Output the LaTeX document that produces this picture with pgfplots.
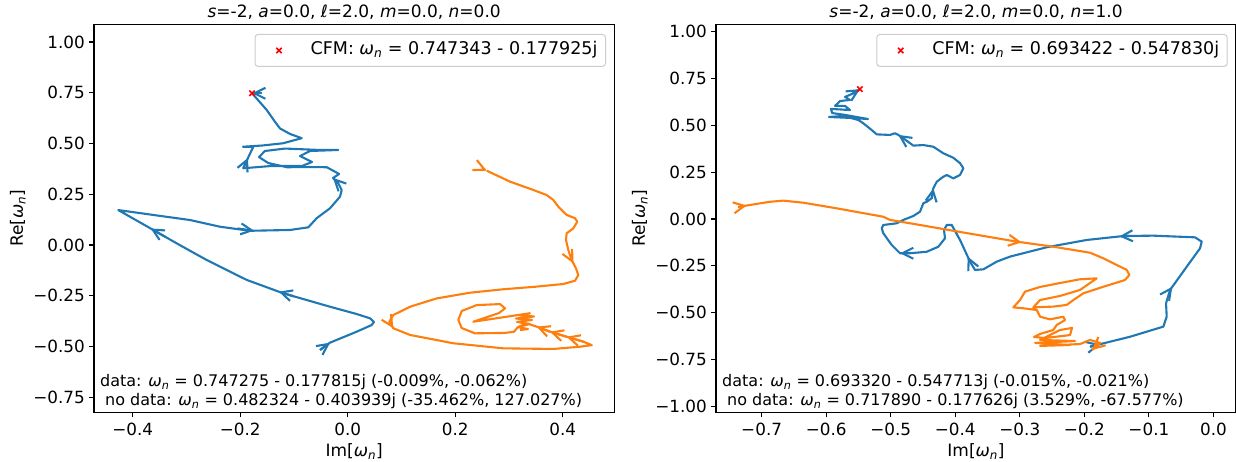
\documentclass[border=0pt]{standalone}
\usepackage{fontspec}
\setmainfont{DejaVu Sans}
\usepackage{pgfplots}
\pgfplotsset{compat=1.18}
\usetikzlibrary{arrows.meta}
\definecolor{mblue}{RGB}{31,119,180}
\definecolor{morange}{RGB}{255,127,14}
\definecolor{legframe}{RGB}{204,204,204}
\newcommand{\wn}{\textit{ω}\textsubscript{\textit{n}}}
\newcommand{\fsz}[1]{\fontsize{#1}{#1}\selectfont}
\tikzset{
  arr/.style={-{Straight Barb[length=11pt,width=11pt]}},
}
\pgfplotsset{
  panel/.style={scale only axis, width=520pt, height=388pt,
    axis line style={line width=1.1pt},
    tick style={line width=1.1pt, black},
    tick align=outside, tick pos=left, major tick length=5pt,
    xticklabel style={font=\fsz{16.8}, anchor=north, inner sep=0pt, yshift=-6pt},
    yticklabel style={font=\fsz{16.8}, anchor=east, inner sep=0pt, xshift=-4pt},
    every axis title/.style={at={(0.5,1)}, anchor=base, yshift=6.3pt,
                             inner sep=0pt, font=\fsz{17}},
    every axis x label/.style={at={(0.5,-0.1015)}, anchor=center, font=\fsz{17}},
    every axis y label/.style={at={(-0.1465,0.5)}, rotate=90, anchor=center, font=\fsz{17}},
    xlabel={Im[\wn]}, ylabel={Re[\wn]},
    legend style={at={(1,1)}, anchor=north east, xshift=-8.3pt, yshift=-9.7pt,
                  draw=legframe, line width=1pt, rounded corners=3pt,
                  fill=white, fill opacity=0.8, text opacity=1,
                  inner xsep=8pt, inner ysep=7.7pt, font=\fsz{17.5},
                  nodes={inner sep=0pt, text height=12.5pt, text depth=4pt}},
    legend image code/.code={\path[draw=none, fill=none] (0pt,-2pt) rectangle (47.6pt,2pt);
                             \draw[##1] plot coordinates {(16pt,0pt)};},
  },
  trk/.style={line width=2.1pt, line join=round, forget plot},
  cfm/.style={only marks, mark=x, red, mark size=3.8pt, line width=1.6pt},
}

\begin{document}
\begin{tikzpicture}
\useasboundingbox (0,0) rectangle (1236pt,461pt);

% left panel, n = 0
\begin{axis}[panel, at={(94pt,48.7pt)}, anchor=south west, width=520.3pt,
             xmin=-0.472, xmax=0.496, ymin=-0.824, ymax=1.087,
             xtick={-0.4,-0.2,0,0.2,0.4},
             xticklabels={−0.4,−0.2,0.0,0.2,0.4},
             ytick={-0.75,-0.5,-0.25,0,0.25,0.5,0.75,1},
             yticklabels={−0.75,−0.50,−0.25,0.00,0.25,0.50,0.75,1.00},
             title={\textit{s}=-2, \textit{a}=0.0, \textit{ℓ}=2.0, \textit{m}=0.0, \textit{n}=0.0}]
  \addplot[trk, mblue] coordinates {
    (-0.0515,-0.517) (-0.0329,-0.481) (0.0167,-0.427) (0.0447,-0.394) (0.0489,-0.379)
    (0.0415,-0.361) (0.0167,-0.340) (-0.0329,-0.304) (-0.1198,-0.238) (-0.1879,-0.172)
    (-0.2623,-0.074) (-0.3181,0.008) (-0.3617,0.074) (-0.4268,0.172) (-0.3617,0.148)
    (-0.2934,0.123) (-0.2376,0.090) (-0.1818,0.070) (-0.1073,0.074) (-0.0733,0.087)
    (-0.0577,0.132) (-0.0329,0.181) (-0.0143,0.238) (-0.0112,0.271) (-0.0175,0.304)
    (-0.0273,0.330) (-0.016,0.350) (-0.039,0.383) (-0.0701,0.384) (-0.1129,0.383)
    (-0.148,0.404) (-0.165,0.433) (-0.154,0.463) (-0.1166,0.475) (-0.0515,0.468)
    (-0.0175,0.468) (-0.0701,0.463) (-0.0887,0.438) (-0.0664,0.409) (-0.085,0.389)
    (-0.143,0.389) (-0.1942,0.378) (-0.1855,0.429) (-0.1756,0.484) (-0.1948,0.484)
    (-0.159,0.490) (-0.1204,0.501) (-0.0856,0.526) (-0.1073,0.547) (-0.126,0.574)
    (-0.1353,0.607) (-0.1507,0.665) (-0.1779,0.7473)};
  \addplot[trk, mblue, arr] coordinates {(-0.0515,-0.517) (-0.0329,-0.481)};
  \addplot[trk, mblue, arr] coordinates {(-0.100,-0.253) (-0.128,-0.230)};
  \addplot[trk, mblue, arr] coordinates {(-0.340,0.041) (-0.3665,0.081)};
  \addplot[trk, mblue, arr] coordinates {(-0.205,0.0815) (-0.1743,0.0704)};
  \addplot[trk, mblue, arr] coordinates {(-0.0175,0.304) (-0.0273,0.330)};
  \addplot[trk, mblue, arr] coordinates {(-0.1942,0.378) (-0.1855,0.429)};
  \addplot[trk, mblue, arr] coordinates {(-0.159,0.7473) (-0.1779,0.7473)};

  \addplot[trk, morange] coordinates {
    (0.2586,0.366) (0.302,0.312) (0.3453,0.271) (0.3702,0.246) (0.3825,0.222)
    (0.3918,0.189) (0.4074,0.148) (0.4229,0.132) (0.4272,0.115) (0.4197,0.082)
    (0.4074,0.058) (0.4061,0.025) (0.4104,-0.025) (0.4167,-0.074) (0.4247,-0.115)
    (0.4290,-0.148) (0.4229,-0.176) (0.4011,-0.192) (0.3516,-0.205) (0.2895,-0.218)
    (0.2275,-0.235) (0.1656,-0.263) (0.1159,-0.304) (0.0848,-0.345) (0.0774,-0.378)
    (0.0848,-0.410) (0.1159,-0.443) (0.1965,-0.484) (0.2895,-0.509) (0.3825,-0.512)
    (0.4322,-0.501) (0.4540,-0.493) (0.4383,-0.476) (0.4074,-0.452) (0.3764,-0.427)
    (0.3516,-0.402) (0.3330,-0.386) (0.3168,-0.404) (0.3094,-0.427) (0.2927,-0.433)
    (0.2368,-0.435) (0.2121,-0.409) (0.2058,-0.369) (0.2121,-0.325) (0.2400,-0.296)
    (0.2834,-0.291) (0.2927,-0.312) (0.2815,-0.335) (0.2337,-0.378) (0.3392,-0.336)
    (0.3168,-0.345) (0.3466,-0.352) (0.3131,-0.362) (0.3429,-0.369) (0.3150,-0.379)
    (0.3392,-0.389) (0.3168,-0.404) (0.3354,-0.414) (0.3206,-0.419)};
  \addplot[trk, morange, arr] coordinates {(0.2564,0.3687) (0.2586,0.366)};
  \addplot[trk, morange, arr] coordinates {(0.4167,-0.074) (0.4198,-0.090)};
  \addplot[trk, morange, arr] coordinates {(0.0774,-0.378) (0.0848,-0.410)};
  \addplot[trk, morange, arr] coordinates {(0.4383,-0.476) (0.4074,-0.452)};
  \addplot[trk, morange, arr] coordinates {(0.4074,-0.452) (0.3764,-0.427)};
  \addplot[trk, morange, arr] coordinates {(0.3764,-0.427) (0.3516,-0.402)};

  \addplot[cfm] coordinates {(-0.177925,0.747343)};
  \addlegendentry{CFM: \wn{} = 0.747343 - 0.177925j}

  \node[anchor=base west, inner sep=0pt, font=\fsz{16}, xshift=6pt, yshift=25.6pt]
    at (rel axis cs:0,0) {data: \wn{} = 0.747275 - 0.177815j (-0.009\%, -0.062\%)};
  \node[anchor=base west, inner sep=0pt, font=\fsz{16}, xshift=11pt, yshift=6.6pt]
    at (rel axis cs:0,0) {no data: \wn{} = 0.482324 - 0.403939j (-35.462\%, 127.027\%)};
\end{axis}

% right panel, n = 1
\begin{axis}[panel, at={(716pt,48.7pt)}, anchor=south west, width=520pt,
             xmin=-0.7707, xmax=0.035, ymin=-1.0326, ymax=1.040,
             xtick={-0.7,-0.6,-0.5,-0.4,-0.3,-0.2,-0.1,0},
             xticklabels={−0.7,−0.6,−0.5,−0.4,−0.3,−0.2,−0.1,0.0},
             ytick={-1,-0.75,-0.5,-0.25,0,0.25,0.5,0.75,1},
             yticklabels={−1.00,−0.75,−0.50,−0.25,0.00,0.25,0.50,0.75,1.00},
             title={\textit{s}=-2, \textit{a}=0.0, \textit{ℓ}=2.0, \textit{m}=0.0, \textit{n}=1.0}]
  \addplot[trk, mblue] coordinates {
    (-0.1912,-0.682) (-0.1292,-0.629) (-0.0776,-0.575) (-0.0724,-0.522) (-0.0734,-0.450)
    (-0.0672,-0.379) (-0.0414,-0.255) (-0.0208,-0.157) (-0.0181,-0.121) (-0.0285,-0.098)
    (-0.0931,-0.089) (-0.1396,-0.091) (-0.1963,-0.112) (-0.2583,-0.151) (-0.3152,-0.201)
    (-0.3358,-0.228) (-0.3565,-0.269) (-0.3694,-0.272) (-0.3771,-0.228) (-0.3926,-0.112)
    (-0.4055,-0.032) (-0.4132,-0.032) (-0.4174,-0.059) (-0.4159,-0.103) (-0.4262,-0.148)
    (-0.4442,-0.175) (-0.4701,-0.183) (-0.4856,-0.183) (-0.4984,-0.139) (-0.5115,-0.076)
    (-0.5139,-0.050) (-0.5115,-0.032) (-0.4907,-0.023) (-0.4805,-0.005) (-0.4650,0.016)
    (-0.4546,0.039) (-0.4495,0.084) (-0.4442,0.092) (-0.4365,0.111) (-0.4340,0.164)
    (-0.4287,0.199) (-0.4185,0.226) (-0.4132,0.235) (-0.4030,0.217) (-0.3926,0.235)
    (-0.3875,0.271) (-0.3926,0.298) (-0.4030,0.327) (-0.4185,0.351) (-0.4340,0.386)
    (-0.4495,0.395) (-0.4650,0.392) (-0.4805,0.431) (-0.4882,0.449) (-0.4933,0.458)
    (-0.5011,0.449) (-0.5217,0.452) (-0.5294,0.475) (-0.5424,0.511) (-0.5502,0.529)
    (-0.5739,0.550) (-0.5956,0.545) (-0.5631,0.540) (-0.5352,0.534) (-0.5708,0.556)
    (-0.5909,0.566) (-0.5925,0.588) (-0.5631,0.582) (-0.5708,0.604) (-0.5863,0.604)
    (-0.5785,0.630) (-0.5631,0.636) (-0.5708,0.652) (-0.5600,0.668) (-0.5478,0.6934)};
  \addplot[trk, mblue, arr] coordinates {(-0.1912,-0.682) (-0.1757,-0.669)};
  \addplot[trk, mblue, arr] coordinates {(-0.0672,-0.379) (-0.0637,-0.362)};
  \addplot[trk, mblue, arr] coordinates {(-0.1303,-0.0905) (-0.1458,-0.0933)};
  \addplot[trk, mblue, arr] coordinates {(-0.3771,-0.228) (-0.3807,-0.201)};
  \addplot[trk, mblue, arr] coordinates {(-0.4701,-0.183) (-0.4856,-0.183)};
  \addplot[trk, mblue, arr] coordinates {(-0.4365,0.111) (-0.4340,0.164)};
  \addplot[trk, mblue, arr] coordinates {(-0.4805,0.431) (-0.4882,0.449)};
  \addplot[trk, mblue, arr] coordinates {(-0.5600,0.668) (-0.5478,0.6934)};

  \addplot[trk, morange] coordinates {
    (-0.7366,0.064) (-0.7231,0.072) (-0.6870,0.092) (-0.6664,0.098) (-0.6354,0.087)
    (-0.5837,0.057) (-0.5115,0.012) (-0.5011,-0.005) (-0.4546,-0.032) (-0.4030,-0.063)
    (-0.3048,-0.121) (-0.2481,-0.148) (-0.1912,-0.180) (-0.1706,-0.210) (-0.1343,-0.272)
    (-0.1303,-0.299) (-0.1370,-0.326) (-0.1706,-0.362) (-0.2016,-0.397) (-0.2171,-0.433)
    (-0.2273,-0.459) (-0.2481,-0.468) (-0.2791,-0.472) (-0.2686,-0.433) (-0.2377,-0.411)
    (-0.2067,-0.379) (-0.1808,-0.317) (-0.2067,-0.322) (-0.2377,-0.342) (-0.2686,-0.363)
    (-0.2919,-0.388) (-0.2997,-0.433) (-0.3100,-0.472) (-0.2945,-0.477) (-0.2738,-0.486)
    (-0.2686,-0.522) (-0.2532,-0.536) (-0.2326,-0.522) (-0.2299,-0.540) (-0.2428,-0.566)
    (-0.2481,-0.593) (-0.2686,-0.614) (-0.2780,-0.630) (-0.2609,-0.636) (-0.2221,-0.620)
    (-0.2191,-0.582) (-0.2377,-0.593) (-0.2686,-0.646) (-0.2144,-0.652) (-0.2764,-0.662)
    (-0.2221,-0.673) (-0.2686,-0.678) (-0.2067,-0.668) (-0.1912,-0.646) (-0.1757,-0.662)
    (-0.1881,-0.700)};
  \addplot[trk, morange, arr] coordinates {(-0.7366,0.064) (-0.7231,0.072)};
  \addplot[trk, morange, arr] coordinates {(-0.3125,-0.1165) (-0.2970,-0.1247)};
  \addplot[trk, morange, arr] coordinates {(-0.1757,-0.662) (-0.1881,-0.700)};

  \addplot[cfm] coordinates {(-0.547830,0.693422)};
  \addlegendentry{CFM: \wn{} = 0.693422 - 0.547830j}

  \node[anchor=base west, inner sep=0pt, font=\fsz{16}, xshift=6pt, yshift=25.6pt]
    at (rel axis cs:0,0) {data: \wn{} = 0.693320 - 0.547713j (-0.015\%, -0.021\%)};
  \node[anchor=base west, inner sep=0pt, font=\fsz{16}, xshift=11pt, yshift=6.6pt]
    at (rel axis cs:0,0) {no data: \wn{} = 0.717890 - 0.177626j (3.529\%, -67.577\%)};
\end{axis}
\end{tikzpicture}
\end{document}
